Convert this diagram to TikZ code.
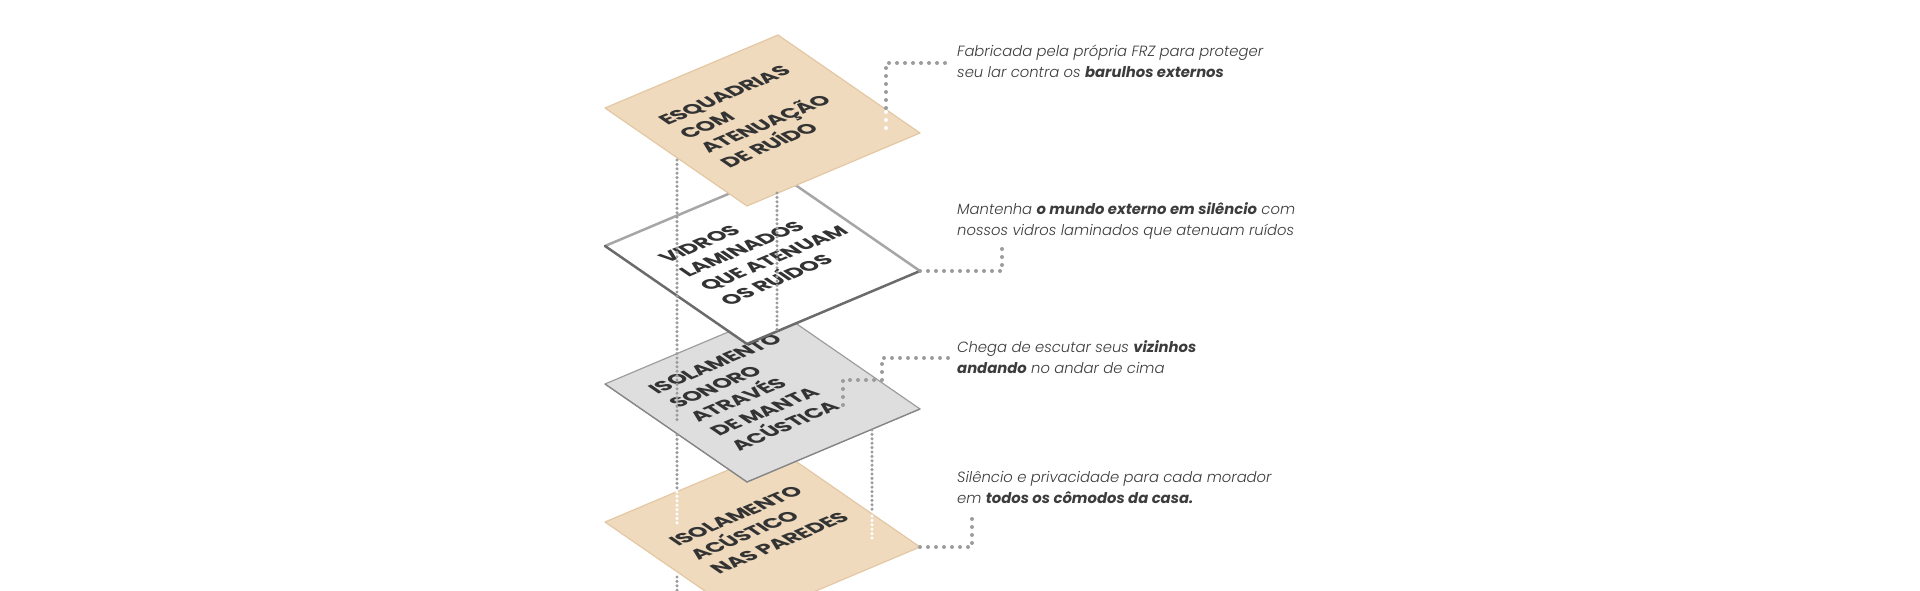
\documentclass[tikz,border=0pt]{standalone}
\usepackage{fontspec}
\setmainfont{Open Sans}
\IfFontExistsTF{Poppins Light Italic}
  {\newfontfamily\descfont{Poppins}[ItalicFont={Poppins Light Italic}, BoldItalicFont={Poppins Bold Italic}]}
  {\newfontfamily\descfont{Poppins}}
\newfontfamily\labfont{Poppins}[LetterSpace=-2, FakeStretch=1.14]
\definecolor{tanfill}{HTML}{EFDABE}
\definecolor{tanedge}{HTML}{E4C8A4}
\definecolor{dotgray}{HTML}{9C9C9C}
\definecolor{panelgray}{HTML}{DEDEDE}
\definecolor{labtext}{HTML}{333333}
\definecolor{desctext}{HTML}{3C3C3C}
\tikzset{
  labline/.style={anchor=base west, inner sep=0pt, text=labtext,
    font=\labfont\bfseries\fontsize{19}{19}\selectfont},
  descline/.style={anchor=base west, inner sep=0pt, text=desctext,
    font=\descfont\itshape\fontsize{14.8}{17}\selectfont},
  coldots/.style={draw=dotgray, line width=3.4pt, line cap=round, dash pattern=on 0pt off 4.4pt},
  condots/.style={draw=dotgray, line width=4pt, line cap=round, dash pattern=on 0pt off 8pt},
  tanpanel/.style={fill=tanfill, draw=tanedge, line width=1.2pt, line join=round},
  greypanel/.style={fill=panelgray, draw=black!38, line width=1.2pt, line join=round},
  textframe/.style={cm={0.921,0.389,-0.823,0.568,(0,0)}, transform shape}
}
\begin{document}
\begin{tikzpicture}[x=1pt,y=1pt]
\clip (0,0) rectangle (1920,590);
\fill[white] (0,0) rectangle (1920,590);
% vertices
\coordinate (d1L) at (605,482); \coordinate (d1T) at (778,555); \coordinate (d1R) at (920,457); \coordinate (d1B) at (747,384);
\coordinate (d2L) at (605,344); \coordinate (d2T) at (778,417); \coordinate (d2R) at (920,319); \coordinate (d2B) at (747,246);
\coordinate (d3L) at (605,206); \coordinate (d3T) at (778,279); \coordinate (d3R) at (920,181); \coordinate (d3B) at (747,108);
\coordinate (d4L) at (605,68);  \coordinate (d4T) at (778,141); \coordinate (d4R) at (920,43);  \coordinate (d4B) at (747,-30);
% panel 4
\path[tanpanel] (d4L) -- (d4T) -- (d4R) -- (d4B) -- cycle;
\begin{scope}[shift={(d4L)}, textframe]
\node[labline] (p4a) at (25,-60.5) {ISOLAMENTO};
\node[labline] (p4b) at (25,-85.5) {ACÚSTICO};
\node[labline] (p4c) at (25,-110.5) {NAS PAREDES};
\end{scope}
% panel 3
\path[greypanel] (d3L) -- (d3T) -- (d3R) -- (d3B) -- cycle;
\draw[black!48, line width=1.2pt, line cap=round] (d3L) -- (d3B) -- (d3R);
\begin{scope}[shift={(d3L)}, textframe]
\node[labline] (p3a) at (25,-35.5) {ISOLAMENTO};
\node[labline] (p3b) at (25,-60.5) {SONORO};
\node[labline] (p3c) at (25,-85.5) {ATRAVÉS};
\node[labline] (p3d) at (25,-110.5) {DE MANTA};
\node[labline] (p3e) at (25,-135.5) {ACÚSTICA};
\end{scope}
% panel 2
\fill[white] (d2L) -- (d2T) -- (d2R) -- (d2B) -- cycle;
\draw[black!35, line width=2.5pt, line join=round] (d2L) -- (d2T) -- (d2R);
\draw[black!58, line width=2.5pt, line join=round, line cap=round] (d2R) -- (d2B) -- (d2L);
\begin{scope}[shift={(d2L)}, textframe]
\node[labline] (p2a) at (25,-48) {VIDROS};
\node[labline] (p2b) at (25,-73) {LAMINADOS};
\node[labline] (p2c) at (25,-98) {QUE ATENUAM};
\node[labline] (p2d) at (25,-123) {OS RUÍDOS};
\end{scope}
% panel 1
\path[tanpanel] (d1L) -- (d1T) -- (d1R) -- (d1B) -- cycle;
\begin{scope}[shift={(d1L)}, textframe]
\node[labline] (p1a) at (25,-48) {ESQUADRIAS};
\node[labline] (p1b) at (25,-73) {COM};
\node[labline] (p1c) at (25,-98) {ATENUAÇÃO};
\node[labline] (p1d) at (25,-123) {DE RUÍDO};
\end{scope}
% vertical dotted columns
\coordinate (lc1) at (677,430); \coordinate (lc2) at (677,168);
\coordinate (lc3) at (677,155); \coordinate (lc4) at (677,98);
\coordinate (lc5) at (677,67);  \coordinate (lc6) at (677,13);
\coordinate (lc7) at (677,-5);
\coordinate (mc1) at (777,397); \coordinate (mc2) at (777,260);
\coordinate (rc1) at (872,160); \coordinate (rc2) at (872,77);
\coordinate (rc3) at (872,74);  \coordinate (rc4) at (872,48);
\path[coldots] (lc1) -- (lc2);
\path[coldots] (lc3) -- (lc4);
\path[coldots, draw=white] (lc4) -- (lc5);
\path[coldots] (lc6) -- (lc7);
\path[coldots] (mc1) -- (mc2);
\path[coldots] (rc1) -- (rc2);
\path[coldots, draw=white] (rc3) -- (rc4);
% connectors
\coordinate (c1s) at (886,462); \coordinate (c1m) at (886,482); \coordinate (c1k) at (886,527); \coordinate (c1e) at (952,527);
\path[condots, draw=white] (c1s) -- (c1m);
\path[condots] (c1m) -- (c1k) -- (c1e);
\coordinate (c2k) at (1002,319); \coordinate (c2e) at (1002,345);
\path[condots] (d2R) -- (c2k) -- (c2e);
\coordinate (c3s) at (843,185); \coordinate (c3a) at (843,210); \coordinate (c3b) at (882,210);
\coordinate (c3c) at (882,232); \coordinate (c3e) at (948,232);
\path[condots] (c3s) -- (c3a) -- (c3b) -- (c3c) -- (c3e);
\coordinate (c4k) at (972,43); \coordinate (c4e) at (972,77);
\path[condots] (d4R) -- (c4k) -- (c4e);
% descriptions
\node[descline] (t1a) at (957,533) {Fabricada pela própria FRZ para proteger};
\node[descline] (t1b) at (957,512) {seu lar contra os \textbf{barulhos externos}};
\node[descline] (t2a) at (957,375) {Mantenha \textbf{o mundo externo em silêncio} com};
\node[descline] (t2b) at (957,354) {nossos vidros laminados que atenuam ruídos};
\node[descline] (t3a) at (957,238) {Chega de escutar seus \textbf{vizinhos}};
\node[descline] (t3b) at (957,217) {\textbf{andando} no andar de cima};
\node[descline] (t4a) at (957,108) {Silêncio e privacidade para cada morador};
\node[descline] (t4b) at (957,87) {em \textbf{todos os cômodos da casa.}};
\end{tikzpicture}
\end{document}
